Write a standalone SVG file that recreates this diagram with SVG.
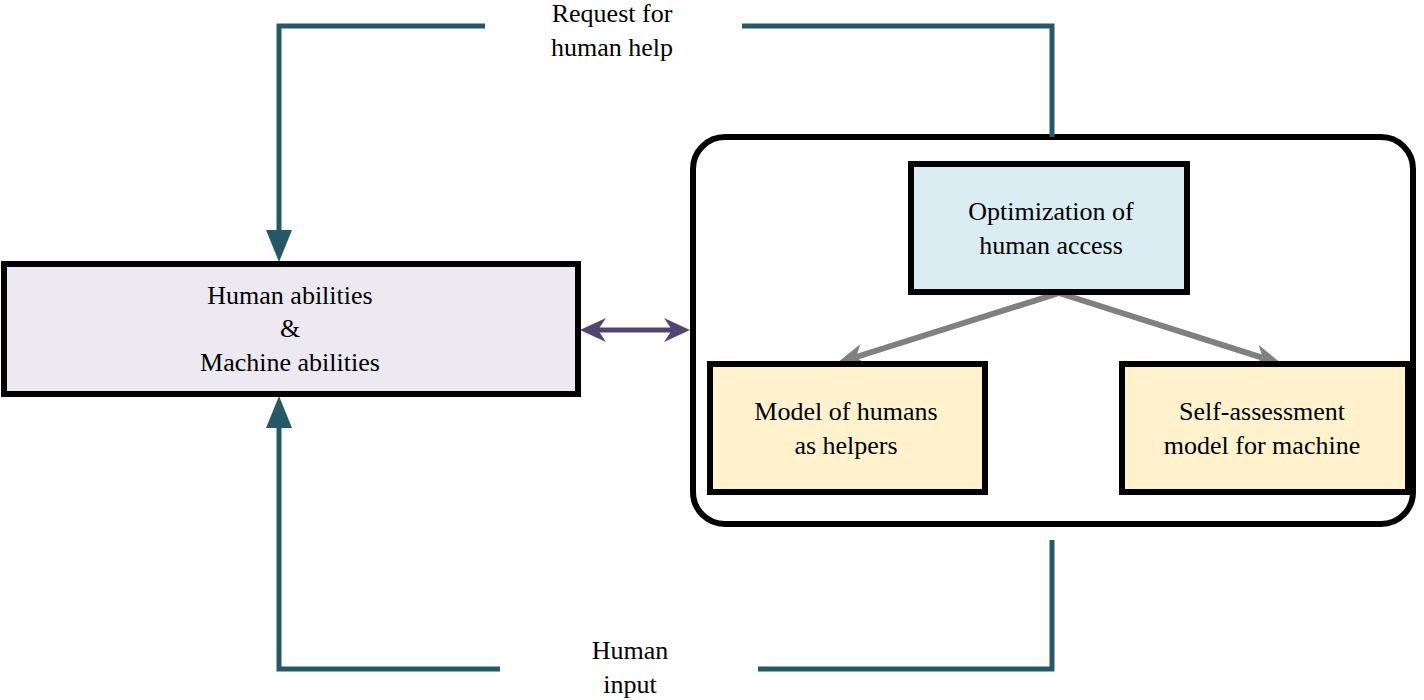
<svg xmlns="http://www.w3.org/2000/svg" width="1424" height="700" viewBox="0 0 1424 700">
<defs>
<style>
.box{stroke:#000;stroke-width:6;}
.t{font-family:"Liberation Serif","Times New Roman",serif;font-size:26px;fill:#000;text-anchor:middle;}
.teal{fill:none;stroke:#245a68;stroke-width:5;stroke-linejoin:miter;}
.gray{fill:none;stroke:#808080;stroke-width:6;}
.purple{fill:none;stroke:#524470;stroke-width:5;}
</style>
<marker id="tealHead" viewBox="0 0 26 32" refX="13" refY="0" markerUnits="userSpaceOnUse" markerWidth="26" markerHeight="32" orient="0">
<path d="M0,0 L26,0 L13,32 Z" fill="#245a68"/>
</marker>
<marker id="tealHeadUp" viewBox="0 0 26 32" refX="13" refY="32" markerUnits="userSpaceOnUse" markerWidth="26" markerHeight="32" orient="0">
<path d="M13,0 L26,32 L0,32 Z" fill="#245a68"/>
</marker>
<marker id="grayHead" viewBox="0 0 28 22" refX="8" refY="11" markerUnits="userSpaceOnUse" markerWidth="28" markerHeight="22" orient="auto">
<path d="M0,0 L28,11 L0,22 L8,11 Z" fill="#808080"/>
</marker>
<marker id="purpleHead" viewBox="0 0 26 24" refX="8" refY="12" markerUnits="userSpaceOnUse" markerWidth="26" markerHeight="24" orient="auto-start-reverse">
<path d="M0,0 L26,12 L0,24 L8,12 Z" fill="#524470"/>
</marker>
</defs>

<g id="container">
<rect x="693" y="137" width="720" height="387" rx="32" ry="32" fill="#fff" stroke="#000" stroke-width="6"/>
</g>

<g id="connectors">
<path class="teal" d="M485,26 L279,26 L279,230" marker-end="url(#tealHead)"/>
<path class="teal" d="M742,26 L1052,26 L1052,137"/>
<path class="teal" d="M500,669 L279,669 L279,428" marker-end="url(#tealHeadUp)"/>
<path class="teal" d="M758,669 L1052,669 L1052,540"/>
<path class="purple" d="M598,330 L672,330" marker-start="url(#purpleHead)" marker-end="url(#purpleHead)"/>
<path class="gray" d="M1059,293 L856.1,357.0" marker-end="url(#grayHead)"/>
<path class="gray" d="M1059,293 L1262.9,357.9" marker-end="url(#grayHead)"/>
</g>

<g id="abilities">
<rect class="box" x="4" y="264" width="574" height="130" fill="#ece9f1"/>
<text class="t" x="290" y="304">Human abilities</text>
<text class="t" x="290" y="337">&amp;</text>
<text class="t" x="290" y="371">Machine abilities</text>
</g>

<g id="optimization">
<rect class="box" x="911" y="164" width="276" height="128" fill="#daedf3"/>
<text class="t" x="1051" y="220">Optimization of</text>
<text class="t" x="1051" y="254">human access</text>
</g>

<g id="humans-model">
<rect class="box" x="710" y="364" width="275" height="128" fill="#fff2cc"/>
<text class="t" x="846" y="420">Model of humans</text>
<text class="t" x="846" y="454">as helpers</text>
</g>

<g id="self-assessment">
<rect class="box" x="1122" y="364" width="286" height="128" fill="#fff2cc"/>
<text class="t" x="1262" y="420">Self-assessment</text>
<text class="t" x="1262" y="454">model for machine</text>
</g>

<g id="labels">
<text class="t" x="612" y="22">Request for</text>
<text class="t" x="612" y="56">human help</text>
<text class="t" x="630" y="659">Human</text>
<text class="t" x="630" y="693">input</text>
</g>
</svg>
